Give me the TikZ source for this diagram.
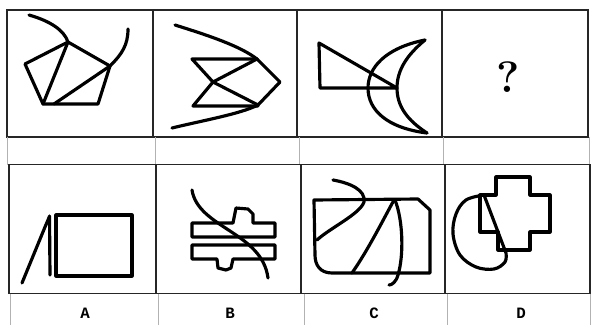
\documentclass[tikz,border=0pt]{standalone}
\usepackage{fontspec}
\setmonofont{Liberation Mono}
\begin{document}
\begin{tikzpicture}[x=0.02cm,y=-0.02cm,
  grid/.style={line width=1.1pt,black!85},
  faint/.style={line width=0.5pt,black!30},
  fig/.style={line width=1.8pt,line join=round,line cap=round},
  lbl/.style={font=\ttfamily\bfseries\small}]
\useasboundingbox (0,0) rectangle (592,325);
\fill[white] (0,0) rectangle (592,325);
% grid top row
\draw[grid] (7,10) rectangle (588,137);
\draw[grid] (153,10) -- (153,137) (297,10) -- (297,137) (442,10) -- (442,137);
% gap faint lines
\draw[faint] (7,137) -- (7,164.5) (155,137) -- (155,164.5) (299,137) -- (299,164.5) (443,137) -- (443,164.5) (589,137) -- (589,164.5);
% bottom row
\draw[grid] (9,164.5) rectangle (590,293.5);
\draw[grid] (156,164.5) -- (156,293.5) (301,164.5) -- (301,293.5) (445,164.5) -- (445,293.5);
\draw[faint] (10,293.5) -- (10,325) (158,293.5) -- (158,325) (304,293.5) -- (304,325) (447,293.5) -- (447,325) (590,293.5) -- (590,325);
% ---- panel 1
\draw[fig] (29,15) .. controls (50,21) and (64,30) .. (68,42);
\draw[fig] (68,42) -- (25,64) -- (43,104) -- (98,104) -- (110,66) -- cycle;
\draw[fig] (43,104) -- (68,42);
\draw[fig] (54,104) -- (110,66);
\draw[fig] (110,66) .. controls (122,54) and (128,45) .. (128,29);
% ---- panel 2
\draw[fig] (175,25) .. controls (210,36) and (240,46) .. (257,59);
\draw[fig] (172,128) .. controls (205,120) and (240,114) .. (258,105);
\draw[fig] (257,59) -- (280,82) -- (258,105);
\draw[fig] (257,59) -- (192,59) -- (213,82) -- (193,106) -- (258,106);
\draw[fig] (257,59) -- (213,82) -- (258,105);
% ---- panel 3
\draw[fig] (319,43) -- (320,88) -- (397,88) -- cycle;
\draw[fig] (425,40) .. controls (385,48) and (368,68) .. (368,88) .. controls (368,110) and (387,128) .. (427,133);
\draw[fig] (425,40) .. controls (407,55) and (397,70) .. (397,88) .. controls (397,106) and (407,120) .. (427,133);
% ---- panel 4
\node[font=\fontsize{25}{30}\selectfont\bfseries] (q) at (508,77) {?};
% ---- A
\draw[fig] (56,215) rectangle (132,276);
\draw[fig] (49.5,216) -- (50,275);
\draw[fig] (22,283) -- (45,227) -- (49.5,216.5);
% ---- B
\draw[fig] (192,223) -- (233,223) -- (236,208) -- (248,209) -- (253,214) -- (253,223) -- (275,223) -- (275,237) -- (192,237) -- cycle;
\draw[fig] (192,245) -- (275,245) -- (275,259) -- (233,259) -- (231,268) -- (226,270) -- (218,268) -- (217,259) -- (192,259) -- cycle;
\draw[fig] (192,190) .. controls (198,228) and (262,232) .. (268,278);
% ---- C
\draw[fig] (314,200) -- (418,199) -- (430,210) -- (430,273) -- (332,273) .. controls (320,273) and (315,265) .. (315,255) -- cycle;
\draw[fig] (333,180) .. controls (350,183) and (366,190) .. (364,202) .. controls (360,214) and (330,228) .. (317,240);
\draw[fig] (352,273) .. controls (368,250) and (382,222) .. (394,200);
\draw[fig] (395,200) .. controls (403,220) and (404,255) .. (398,275) .. controls (396,282) and (392,285) .. (389,285);
% ---- D
\draw[fig] (496,177) -- (530,177) -- (530,195) -- (550,195) -- (550,232) -- (530,232) -- (530,250) -- (498,250) -- (498,232) -- (480,232) -- (480,195) -- (496,195) -- cycle;
\draw[fig] plot[smooth,tension=0.6] coordinates {(484,195) (466,200) (456,214) (453,234) (460,255) (476,267) (494,269) (505,262) (506,253)} -- cycle;
% labels
\node[lbl] (la) at (85,313) {A};
\node[lbl] (lb) at (230,313) {B};
\node[lbl] (lc) at (374,313) {C};
\node[lbl] (ld) at (521,313) {D};
\end{tikzpicture}
\end{document}
